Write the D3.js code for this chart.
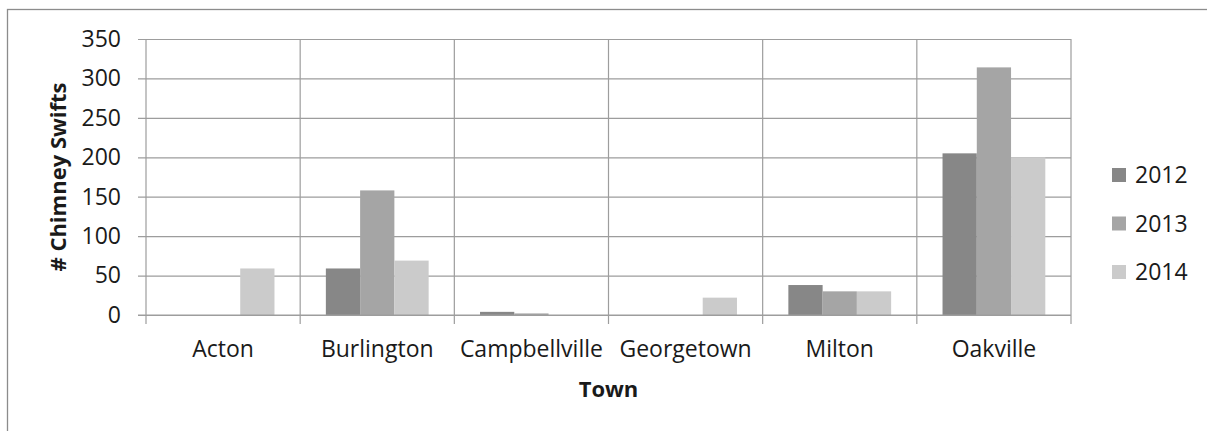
<!DOCTYPE html>
<html>
<head>
<meta charset="utf-8">
<script src="https://cdn.jsdelivr.net/npm/d3@7"></script>
<style>
  body { margin: 0; background: #fff; }
  text { font-family: "Open Sans", sans-serif; fill: #1a1a1a; }
</style>
</head>
<body>
<script>
// data
const towns = ["Acton", "Burlington", "Campbellville", "Georgetown", "Milton", "Oakville"]
const years = ["2012", "2013", "2014"]
const counts2012 = [0, 59, 4, 0, 38, 205]
const counts2013 = [0, 158, 2, 0, 30, 314]
const counts2014 = [59, 69, 0, 22, 30, 200]
const yTicks = [0, 50, 100, 150, 200, 250, 300, 350]
const barColors = ["#878787", "#a5a5a5", "#cbcbcb"]

class SwiftChart{

    constructor(){
        this.width = 1207
        this.height = 431
        this.left = 146
        this.right = 1071
        this.top = 39
        this.bottom = 315
        this.tick_len = 8
        this.grid_color = "#9d9d9d"
    }

    render(){
        const svg = d3.select("body").append("svg")
            .attr("width", this.width)
            .attr("height", this.height)

        // outer frame, runs off the right and bottom edges
        svg.append("rect")
            .attr("x", 7.5).attr("y", 9.5)
            .attr("width", 1400).attr("height", 600)
            .attr("fill", "none")
            .attr("stroke", "#8c8c8c")
            .attr("stroke-width", 1.3)

        const x0 = d3.scaleBand().domain(towns).range([this.left, this.right]).padding(0)
        const x1 = d3.scaleBand().domain(years).range([0, x0.bandwidth()])
            .paddingInner(0).paddingOuter(0.75)
        const y = d3.scaleLinear().domain([0, 350]).range([this.bottom, this.top])
        const color = d3.scaleOrdinal().domain(years).range(barColors)

        // horizontal gridlines + y labels in one axis, drawn from the right edge
        const gy = svg.append("g")
            .attr("transform", `translate(${this.right},0)`)
            .call(d3.axisLeft(y).tickValues(yTicks)
                .tickSizeInner(this.right - this.left + this.tick_len)
                .tickSizeOuter(0).tickPadding(17))
        gy.select(".domain").remove()
        gy.selectAll("line").attr("stroke", this.grid_color).attr("stroke-width", 1.2)
        gy.selectAll("text").style("font-size", "23px").attr("fill", "#1a1a1a")
            .attr("font-family", null)

        // vertical lines at the category edges, dropping below the axis as ticks
        const edges = towns.map(t => x0(t)).concat([x0.range()[1]])
        svg.append("g").selectAll("line")
            .data(edges)
            .join("line")
            .attr("x1", d => d).attr("x2", d => d)
            .attr("y1", this.top).attr("y2", this.bottom + 9)
            .attr("stroke", this.grid_color)
            .attr("stroke-width", 1.2)

        // bars
        const series = [counts2012, counts2013, counts2014]
        const groups = svg.append("g").selectAll("g")
            .data(towns)
            .join("g")
            .attr("transform", d => `translate(${x0(d)},0)`)
        groups.selectAll("rect")
            .data((t, i) => years.map((yr, j) => ({year: yr, value: series[j][i]})))
            .join("rect")
            .attr("x", d => x1(d.year))
            .attr("y", d => y(d.value))
            .attr("width", x1.bandwidth())
            .attr("height", d => y(0) - y(d.value))
            .attr("fill", d => color(d.year))

        // redraw the zero line on top of the bars
        svg.append("line")
            .attr("x1", this.left - this.tick_len).attr("x2", this.right)
            .attr("y1", y(0)).attr("y2", y(0))
            .attr("stroke", this.grid_color).attr("stroke-width", 1.2)

        // category labels
        const gx = svg.append("g")
            .attr("transform", `translate(0,${this.bottom})`)
            .call(d3.axisBottom(x0).tickSize(0).tickPadding(26))
        gx.select(".domain").remove()
        gx.selectAll("text").style("font-size", "23px").attr("fill", "#1a1a1a")
            .attr("font-family", null)

        // axis titles
        svg.append("text").text("Town")
            .attr("x", (this.left + this.right) / 2)
            .attr("y", 397)
            .attr("text-anchor", "middle")
            .style("font-size", "22px").style("font-weight", "bold")

        svg.append("text").text("# Chimney Swifts")
            .attr("transform", `translate(66,${(this.top + this.bottom) / 2}) rotate(-90)`)
            .attr("text-anchor", "middle")
            .style("font-size", "22px").style("font-weight", "bold")

        // legend
        const legend = svg.append("g").selectAll("g")
            .data(years)
            .join("g")
            .attr("transform", (d, i) => `translate(1112,${175 + i * 48.5})`)
        legend.append("rect")
            .attr("x", 0).attr("y", -7)
            .attr("width", 14).attr("height", 14)
            .attr("fill", d => color(d))
        legend.append("text").text(d => d)
            .attr("x", 23).attr("y", 8)
            .style("font-size", "23px")
    }
}

new SwiftChart().render()
</script>
</body>
</html>
